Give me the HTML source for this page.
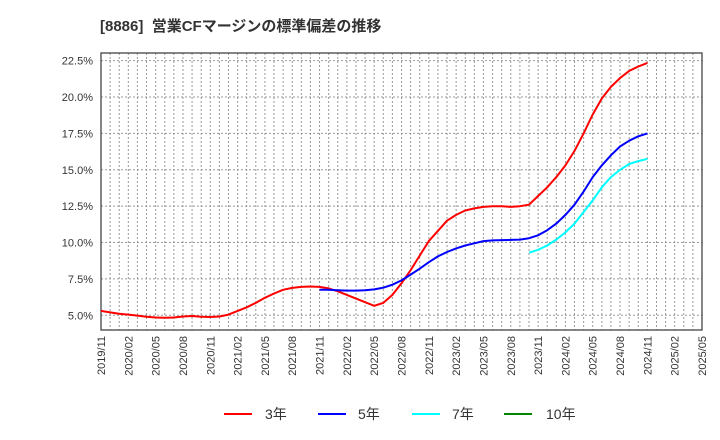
<!DOCTYPE html>
<html><head><meta charset="utf-8"><style>
body{margin:0;background:#fff;}
svg{display:block;font-family:"Liberation Sans","Noto Sans CJK JP",sans-serif;}
</style></head><body>
<svg id="c" width="720" height="440">
<text x="100" y="31" font-size="15" font-weight="bold" fill="#333">[8886]&#160; 営業CFマージンの標準偏差の推移</text>
<g id="grid"></g><g id="axes"></g><g id="series"></g>
<g font-size="14" fill="#333">
<line x1="224" y1="414" x2="252" y2="414" stroke="#f00" stroke-width="2"/><text x="265" y="419">3年</text>
<line x1="318" y1="414" x2="346" y2="414" stroke="#00f" stroke-width="2"/><text x="358" y="419">5年</text>
<line x1="412" y1="414" x2="440" y2="414" stroke="#0ff" stroke-width="2"/><text x="452" y="419">7年</text>
<line x1="504" y1="414" x2="532" y2="414" stroke="#080" stroke-width="2"/><text x="546" y="419">10年</text>
</g>
</svg>
<script>
const yTicks=[5.0,7.5,10.0,12.5,15.0,17.5,20.0,22.5];
const xLabels=["2019/11","2020/02","2020/05","2020/08","2020/11","2021/02","2021/05","2021/08","2021/11","2022/02","2022/05","2022/08","2022/11","2023/02","2023/05","2023/08","2023/11","2024/02","2024/05","2024/08","2024/11","2025/02","2025/05"];
const s3=[5.3,5.2,5.1,5.05,4.98,4.9,4.85,4.83,4.85,4.92,4.95,4.9,4.88,4.92,5.05,5.3,5.55,5.85,6.2,6.5,6.75,6.88,6.95,6.98,6.95,6.85,6.65,6.4,6.15,5.9,5.65,5.85,6.4,7.2,8.1,9.1,10.1,10.8,11.5,11.9,12.2,12.35,12.45,12.5,12.5,12.45,12.5,12.6,13.2,13.8,14.5,15.3,16.3,17.5,18.8,19.9,20.7,21.3,21.8,22.1,22.35];
const s5start=24;
const s5=[6.75,6.75,6.72,6.7,6.7,6.72,6.78,6.9,7.1,7.4,7.8,8.2,8.65,9.05,9.35,9.6,9.8,9.95,10.1,10.15,10.17,10.18,10.2,10.3,10.5,10.85,11.3,11.9,12.6,13.5,14.5,15.3,16.0,16.6,17.0,17.3,17.5];
const s7start=47;
const s7=[9.3,9.5,9.8,10.2,10.7,11.3,12.1,12.9,13.8,14.5,15.0,15.4,15.6,15.75];
const s10=[];
const L=101,R=702,T=53,B=330,NM=66;
const X=i=>L+i*(R-L)/NM;
const Y=v=>315.3-(v-5)*14.55;
const NS="http://www.w3.org/2000/svg";
function mk(t,a,p){const e=document.createElementNS(NS,t);for(const k in a)e.setAttribute(k,a[k]);p.appendChild(e);return e;}
const g=document.getElementById('grid'),ax=document.getElementById('axes'),se=document.getElementById('series');
for(let i=1;i<NM;i++){const l=mk('line',{x1:X(i),x2:X(i),y1:T,y2:B,stroke:'#999','stroke-dasharray':'2,2','stroke-width':1},g);

}
yTicks.forEach(v=>{const l=mk('line',{x1:L,x2:R,y1:Y(v),y2:Y(v),stroke:'#999','stroke-dasharray':'2,2','stroke-width':1},g);


const t=mk('text',{x:93,y:Y(v)+4,'text-anchor':'end','font-size':11,fill:'#333'},ax);t.textContent=v.toFixed(1)+'%';

});
xLabels.forEach((s,i)=>{const x=X(i*3);const t=mk('text',{x:0,y:0,transform:`translate(${x+4},336) rotate(-90)`,'text-anchor':'end','font-size':11,fill:'#333'},ax);t.textContent=s;

});
const fr=mk('rect',{x:L,y:T,width:R-L,height:B-T,fill:'none',stroke:'#444','stroke-width':1.3},ax);


function path(arr,start,col,name){if(!arr.length)return;const d=arr.map((v,i)=>(i?'L':'M')+X(start+i).toFixed(1)+','+Y(v).toFixed(1)).join('');
const p=mk('path',{d:d,fill:'none',stroke:col,'stroke-width':2,'stroke-linejoin':'round'},se);

}
path(s3,0,'#f00','line-3y');
path(s5,s5start,'#00f','line-5y');
path(s7,s7start,'#0ff','line-7y');
path(s10,0,'#080','line-10y');
</script>
</body></html>
